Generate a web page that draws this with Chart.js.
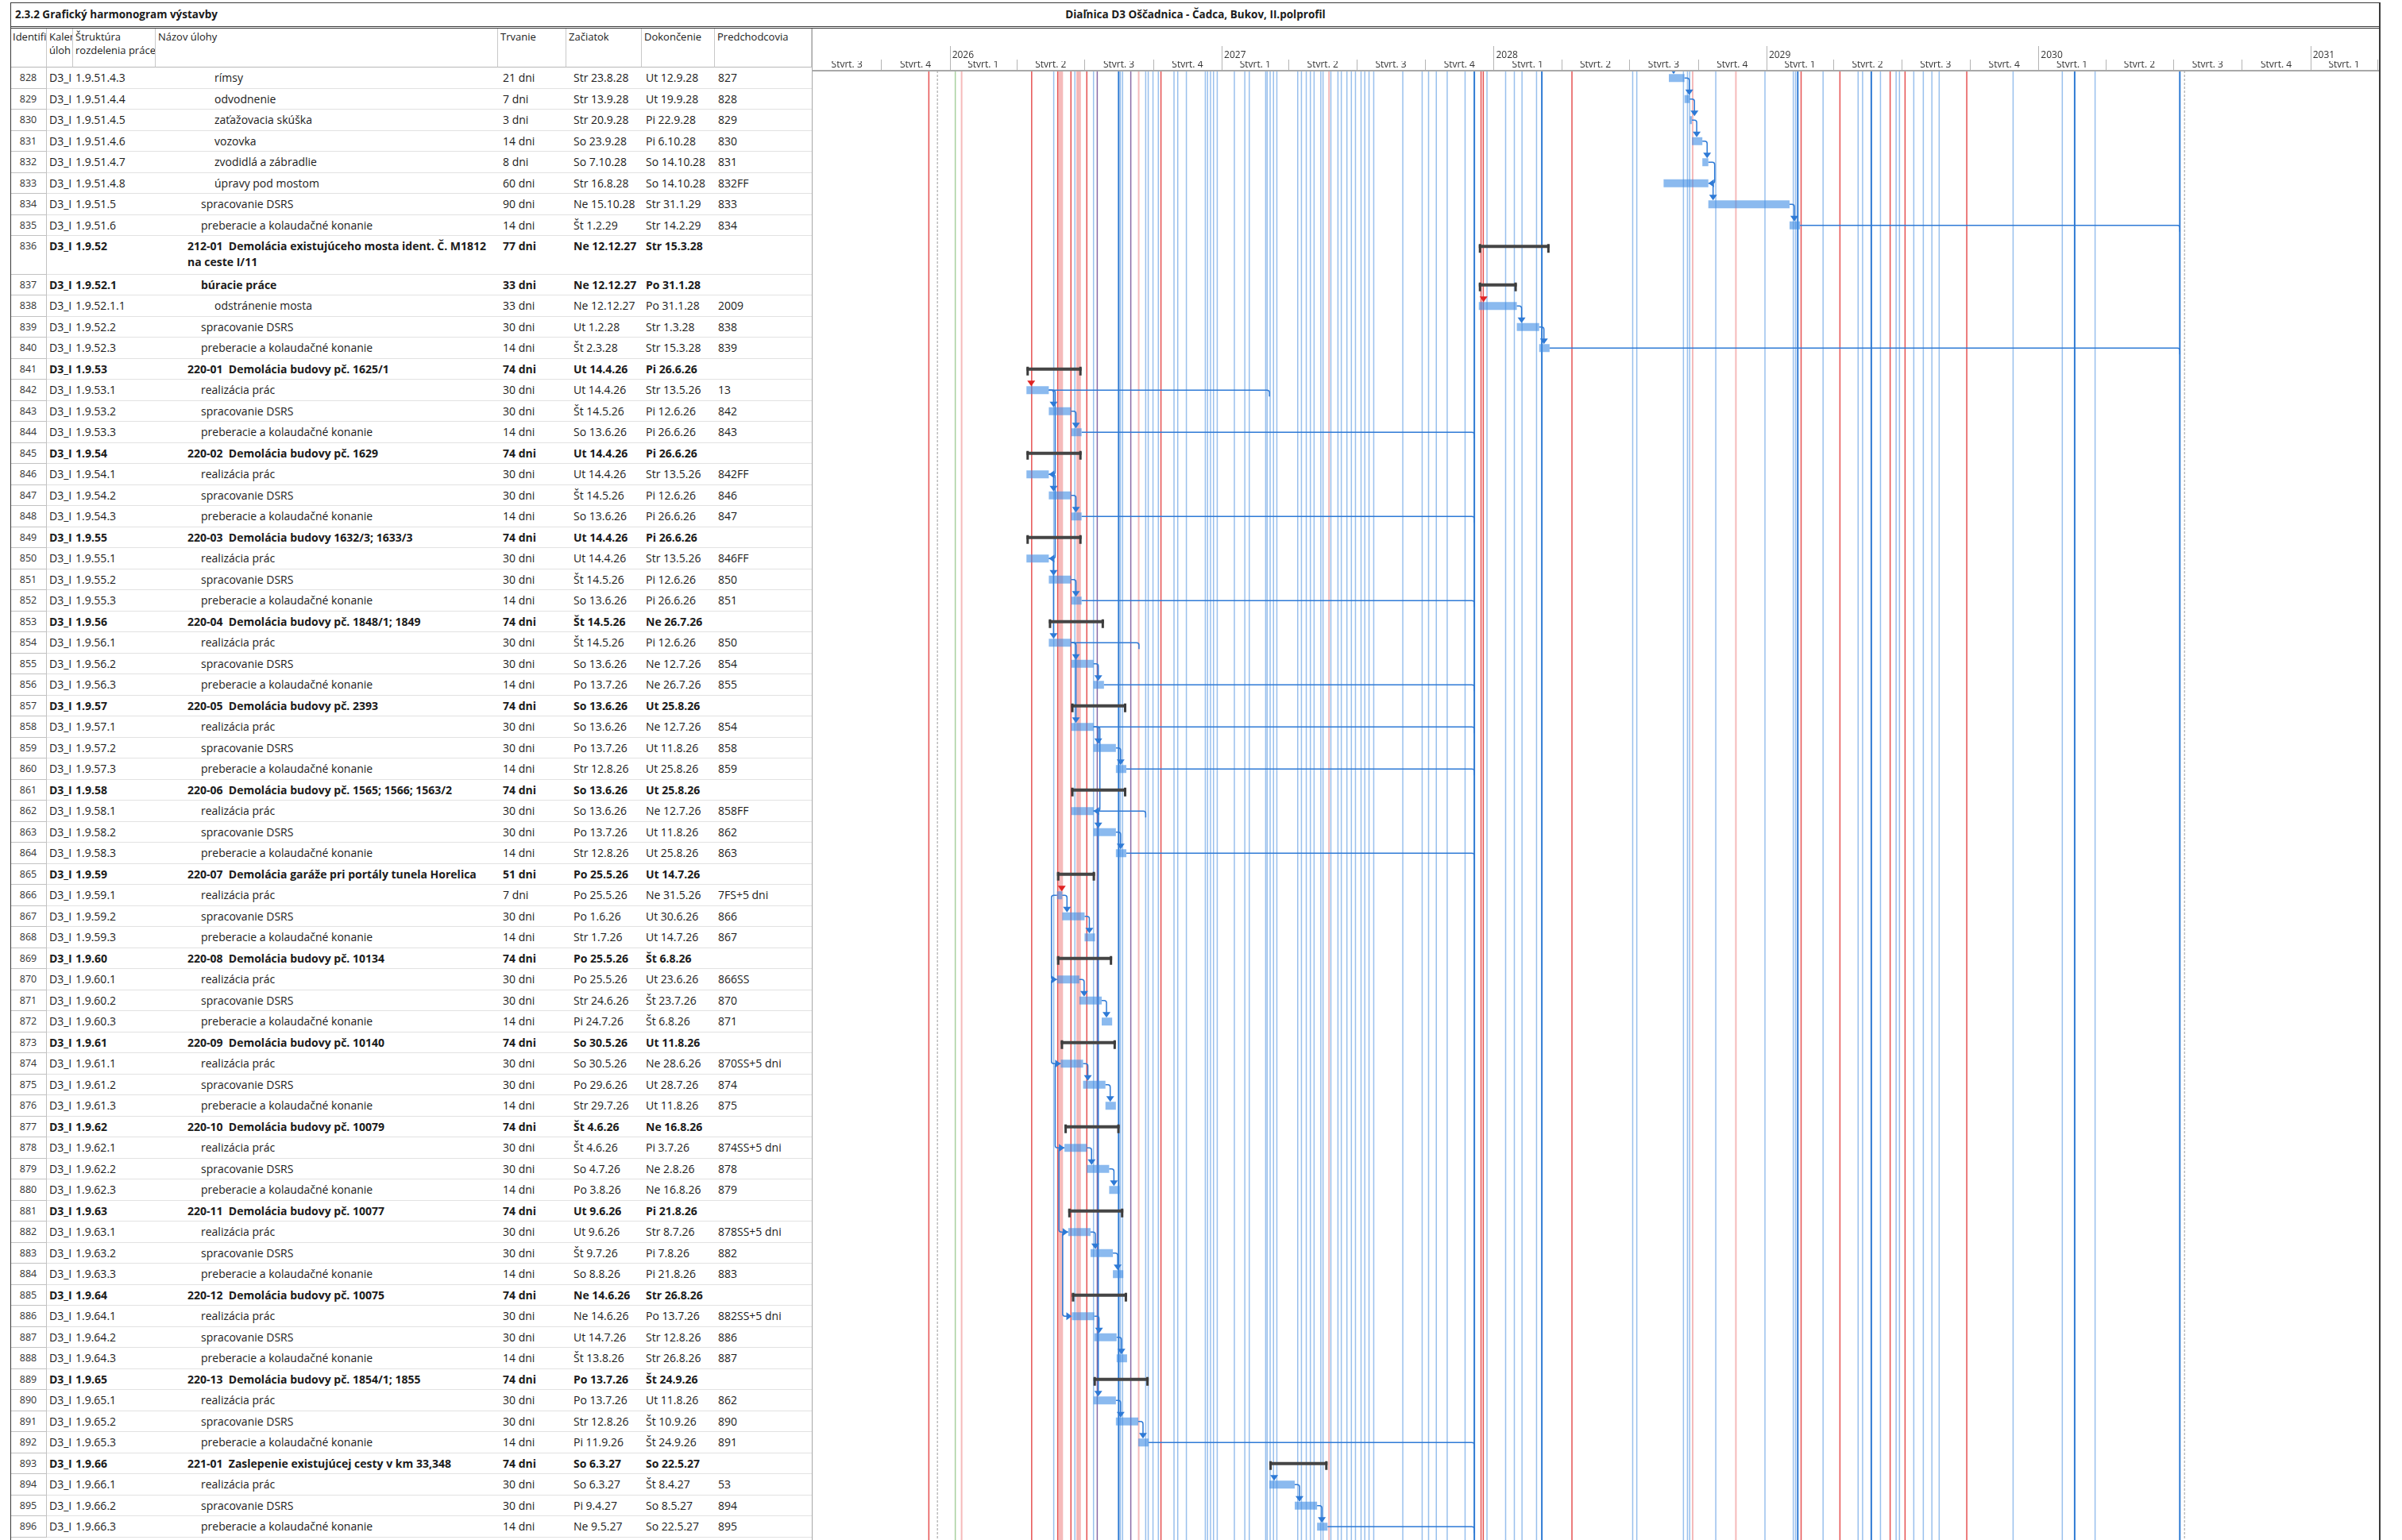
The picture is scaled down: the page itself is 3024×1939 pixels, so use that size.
<!DOCTYPE html>
<html lang="sk">
<head>
<meta charset="utf-8">
<title>2.3.2 Grafický harmonogram výstavby</title>
<script src="https://cdn.jsdelivr.net/npm/chart.js@4.4.1/dist/chart.umd.min.js"></script>
<style>
  html, body { margin: 0; padding: 0; background: #fff; }
  body { width: 3024px; height: 1939px; overflow: hidden; position: relative;
         font-family: 'Open Sans', 'Noto Sans', sans-serif; color: #1b1b1b; }
  .abs { position: absolute; }
  .frame { left: 13px; top: 3px; width: 2984px; height: 1960px; border: 1px solid #3a3a3a;
           border-right-width: 2px; box-sizing: border-box; z-index: 5; pointer-events: none; }
  .hline { left: 13px; width: 2984px; height: 1px; background: #3a3a3a; z-index: 5; }
  .title-left { left: 19px; top: 9px; font-size: 13.5px; font-weight: 700; }
  .title-center { left: 13px; width: 2984px; top: 9px; text-align: center; font-size: 13.5px; font-weight: 700; }
  .hcell { top: 35px; height: 50px; box-sizing: border-box; padding: 3px 0 0 3px; font-size: 13px;
           line-height: 17px; border-right: 1px solid #c8c8c8; border-bottom: 1px solid #b8b8b8; overflow: hidden; white-space: nowrap; }
  .row { left: 13px; width: 1009px; }
  .cell { top: 0; height: 26.5px; line-height: 26.5px; font-size: 14px; white-space: pre; overflow: hidden; box-sizing: border-box; }
  .row .line { left: 46px; right: 0; bottom: 0; height: 1px; background: #e2e2e2; }
  .idcell { text-align: center; font-size: 12.5px; color: #333; border-right: 1px solid #c2c2c2; border-bottom: 1px solid #c2c2c2; height: 100%; }
  .sum .cell { font-weight: 700; }
  .sum .idcell { font-weight: 400; }
  .wrapname { white-space: pre-wrap; line-height: 20px; padding-top: 3px; height: auto; }
  #gantt { left: 1022px; top: 35px; width: 1974px; height: 1904px; border-left: 1px solid #a8a8a8; box-sizing: border-box; }
</style>
</head>
<body>
<div class="abs frame"></div>
<div class="abs title-left">2.3.2 Grafický harmonogram výstavby</div>
<div class="abs title-center">Diaľnica D3 Oščadnica - Čadca, Bukov, II.polprofil</div>
<div class="abs hline" style="top:33px"></div>
<div class="abs hline" style="top:35px"></div>
<div id="table"></div>
<div id="gantt" class="abs"><canvas id="ganttChart"></canvas></div>

<script>
// --- DATA ---
const taskIds = [828, 829, 830, 831, 832, 833, 834, 835, 836, 837, 838, 839, 840, 841, 842, 843, 844, 845,
  846, 847, 848, 849, 850, 851, 852, 853, 854, 855, 856, 857, 858, 859, 860, 861, 862, 863, 864, 865, 866,
  867, 868, 869, 870, 871, 872, 873, 874, 875, 876, 877, 878, 879, 880, 881, 882, 883, 884, 885, 886, 887,
  888, 889, 890, 891, 892, 893, 894, 895, 896];

const wbsCodes = ['1.9.51.4.3', '1.9.51.4.4', '1.9.51.4.5', '1.9.51.4.6', '1.9.51.4.7', '1.9.51.4.8',
  '1.9.51.5', '1.9.51.6', '1.9.52', '1.9.52.1', '1.9.52.1.1', '1.9.52.2', '1.9.52.3',
  '1.9.53', '1.9.53.1', '1.9.53.2', '1.9.53.3', '1.9.54', '1.9.54.1', '1.9.54.2', '1.9.54.3',
  '1.9.55', '1.9.55.1', '1.9.55.2', '1.9.55.3', '1.9.56', '1.9.56.1', '1.9.56.2', '1.9.56.3',
  '1.9.57', '1.9.57.1', '1.9.57.2', '1.9.57.3', '1.9.58', '1.9.58.1', '1.9.58.2', '1.9.58.3',
  '1.9.59', '1.9.59.1', '1.9.59.2', '1.9.59.3', '1.9.60', '1.9.60.1', '1.9.60.2', '1.9.60.3',
  '1.9.61', '1.9.61.1', '1.9.61.2', '1.9.61.3', '1.9.62', '1.9.62.1', '1.9.62.2', '1.9.62.3',
  '1.9.63', '1.9.63.1', '1.9.63.2', '1.9.63.3', '1.9.64', '1.9.64.1', '1.9.64.2', '1.9.64.3',
  '1.9.65', '1.9.65.1', '1.9.65.2', '1.9.65.3', '1.9.66', '1.9.66.1', '1.9.66.2', '1.9.66.3'];

const REAL = 'realizácia prác', DSRS = 'spracovanie DSRS', KOLAUD = 'preberacie a kolaudačné konanie';
const taskNames = ['rímsy', 'odvodnenie', 'zaťažovacia skúška', 'vozovka', 'zvodidlá a zábradlie', 'úpravy pod mostom',
  DSRS, KOLAUD,
  '212-01  Demolácia existujúceho mosta ident. Č. M1812 na ceste I/11', 'búracie práce', 'odstránenie mosta', DSRS, KOLAUD,
  '220-01  Demolácia budovy pč. 1625/1', REAL, DSRS, KOLAUD,
  '220-02  Demolácia budovy pč. 1629', REAL, DSRS, KOLAUD,
  '220-03  Demolácia budovy 1632/3; 1633/3', REAL, DSRS, KOLAUD,
  '220-04  Demolácia budovy pč. 1848/1; 1849', REAL, DSRS, KOLAUD,
  '220-05  Demolácia budovy pč. 2393', REAL, DSRS, KOLAUD,
  '220-06  Demolácia budovy pč. 1565; 1566; 1563/2', REAL, DSRS, KOLAUD,
  '220-07  Demolácia garáže pri portály tunela Horelica', REAL, DSRS, KOLAUD,
  '220-08  Demolácia budovy pč. 10134', REAL, DSRS, KOLAUD,
  '220-09  Demolácia budovy pč. 10140', REAL, DSRS, KOLAUD,
  '220-10  Demolácia budovy pč. 10079', REAL, DSRS, KOLAUD,
  '220-11  Demolácia budovy pč. 10077', REAL, DSRS, KOLAUD,
  '220-12  Demolácia budovy pč. 10075', REAL, DSRS, KOLAUD,
  '220-13  Demolácia budovy pč. 1854/1; 1855', REAL, DSRS, KOLAUD,
  '221-01  Zaslepenie existujúcej cesty v km 33,348', REAL, DSRS, KOLAUD];

const durations = ['21 dni', '7 dni', '3 dni', '14 dni', '8 dni', '60 dni', '90 dni', '14 dni',
  '77 dni', '33 dni', '33 dni', '30 dni', '14 dni',
  '74 dni', '30 dni', '30 dni', '14 dni', '74 dni', '30 dni', '30 dni', '14 dni',
  '74 dni', '30 dni', '30 dni', '14 dni', '74 dni', '30 dni', '30 dni', '14 dni',
  '74 dni', '30 dni', '30 dni', '14 dni', '74 dni', '30 dni', '30 dni', '14 dni',
  '51 dni', '7 dni', '30 dni', '14 dni', '74 dni', '30 dni', '30 dni', '14 dni',
  '74 dni', '30 dni', '30 dni', '14 dni', '74 dni', '30 dni', '30 dni', '14 dni',
  '74 dni', '30 dni', '30 dni', '14 dni', '74 dni', '30 dni', '30 dni', '14 dni',
  '74 dni', '30 dni', '30 dni', '14 dni', '74 dni', '30 dni', '30 dni', '14 dni'];

const startDates = ['Str 23.8.28', 'Str 13.9.28', 'Str 20.9.28', 'So 23.9.28', 'So 7.10.28', 'Str 16.8.28',
  'Ne 15.10.28', 'Št 1.2.29', 'Ne 12.12.27', 'Ne 12.12.27', 'Ne 12.12.27', 'Ut 1.2.28', 'Št 2.3.28',
  'Ut 14.4.26', 'Ut 14.4.26', 'Št 14.5.26', 'So 13.6.26', 'Ut 14.4.26', 'Ut 14.4.26', 'Št 14.5.26', 'So 13.6.26',
  'Ut 14.4.26', 'Ut 14.4.26', 'Št 14.5.26', 'So 13.6.26', 'Št 14.5.26', 'Št 14.5.26', 'So 13.6.26', 'Po 13.7.26',
  'So 13.6.26', 'So 13.6.26', 'Po 13.7.26', 'Str 12.8.26', 'So 13.6.26', 'So 13.6.26', 'Po 13.7.26', 'Str 12.8.26',
  'Po 25.5.26', 'Po 25.5.26', 'Po 1.6.26', 'Str 1.7.26', 'Po 25.5.26', 'Po 25.5.26', 'Str 24.6.26', 'Pi 24.7.26',
  'So 30.5.26', 'So 30.5.26', 'Po 29.6.26', 'Str 29.7.26', 'Št 4.6.26', 'Št 4.6.26', 'So 4.7.26', 'Po 3.8.26',
  'Ut 9.6.26', 'Ut 9.6.26', 'Št 9.7.26', 'So 8.8.26', 'Ne 14.6.26', 'Ne 14.6.26', 'Ut 14.7.26', 'Št 13.8.26',
  'Po 13.7.26', 'Po 13.7.26', 'Str 12.8.26', 'Pi 11.9.26', 'So 6.3.27', 'So 6.3.27', 'Pi 9.4.27', 'Ne 9.5.27'];

const finishDates = ['Ut 12.9.28', 'Ut 19.9.28', 'Pi 22.9.28', 'Pi 6.10.28', 'So 14.10.28', 'So 14.10.28',
  'Str 31.1.29', 'Str 14.2.29', 'Str 15.3.28', 'Po 31.1.28', 'Po 31.1.28', 'Str 1.3.28', 'Str 15.3.28',
  'Pi 26.6.26', 'Str 13.5.26', 'Pi 12.6.26', 'Pi 26.6.26', 'Pi 26.6.26', 'Str 13.5.26', 'Pi 12.6.26', 'Pi 26.6.26',
  'Pi 26.6.26', 'Str 13.5.26', 'Pi 12.6.26', 'Pi 26.6.26', 'Ne 26.7.26', 'Pi 12.6.26', 'Ne 12.7.26', 'Ne 26.7.26',
  'Ut 25.8.26', 'Ne 12.7.26', 'Ut 11.8.26', 'Ut 25.8.26', 'Ut 25.8.26', 'Ne 12.7.26', 'Ut 11.8.26', 'Ut 25.8.26',
  'Ut 14.7.26', 'Ne 31.5.26', 'Ut 30.6.26', 'Ut 14.7.26', 'Št 6.8.26', 'Ut 23.6.26', 'Št 23.7.26', 'Št 6.8.26',
  'Ut 11.8.26', 'Ne 28.6.26', 'Ut 28.7.26', 'Ut 11.8.26', 'Ne 16.8.26', 'Pi 3.7.26', 'Ne 2.8.26', 'Ne 16.8.26',
  'Pi 21.8.26', 'Str 8.7.26', 'Pi 7.8.26', 'Pi 21.8.26', 'Str 26.8.26', 'Po 13.7.26', 'Str 12.8.26', 'Str 26.8.26',
  'Št 24.9.26', 'Ut 11.8.26', 'Št 10.9.26', 'Št 24.9.26', 'So 22.5.27', 'Št 8.4.27', 'So 8.5.27', 'So 22.5.27'];

const predecessors = ['827', '828', '829', '830', '831', '832FF', '833', '834',
  '', '', '2009', '838', '839',
  '', '13', '842', '843', '', '842FF', '846', '847',
  '', '846FF', '850', '851', '', '850', '854', '855',
  '', '854', '858', '859', '', '858FF', '862', '863',
  '', '7FS+5 dni', '866', '867', '', '866SS', '870', '871',
  '', '870SS+5 dni', '874', '875', '', '874SS+5 dni', '878', '879',
  '', '878SS+5 dni', '882', '883', '', '882SS+5 dni', '886', '887',
  '', '862', '890', '891', '', '53', '894', '895'];

// incoming links from tasks outside this page that are critical (drawn red)
const criticalInLinks = [838, 842, 866];

// timescale
const viewStart = '1.7.25';
const viewEnd = '4.4.31';
const quarterTickLabels = ['Štvrť. 3', 'Štvrť. 4',
  'Štvrť. 1', 'Štvrť. 2', 'Štvrť. 3', 'Štvrť. 4',
  'Štvrť. 1', 'Štvrť. 2', 'Štvrť. 3', 'Štvrť. 4',
  'Štvrť. 1', 'Štvrť. 2', 'Štvrť. 3', 'Štvrť. 4',
  'Štvrť. 1', 'Štvrť. 2', 'Štvrť. 3', 'Štvrť. 4',
  'Štvrť. 1', 'Štvrť. 2', 'Štvrť. 3', 'Štvrť. 4',
  'Štvrť. 1'];
const yearTickLabels = ['2026', '2027', '2028', '2029', '2030', '2031'];

// link lines of other tasks passing vertically through the page (day from 1.1.2026) and their kind
const crossLinkDays = [-28, -16.5, 7.5, 16, 110, 139.6, 145, 147, 149, 151, 162.7, 168, 171, 173, 175, 184, 193, 198,
  226.7, 229, 232, 243, 253.6, 263, 266.4, 272.8, 280, 283.5, 301, 306, 317.6, 343, 346, 350, 354, 359, 382, 396, 402,
  424, 426, 430, 434.5, 439, 467, 472, 478.5, 484, 489, 498, 501, 509, 511.5, 521, 525.5, 533, 539, 544.5, 552,
  557, 562.7, 569, 608, 634, 642.6, 653, 667.6, 691.6, 704, 713, 716, 721, 746, 757.7, 768, 787.5, 794.6, 835,
  916.5, 922, 984.6, 990, 993, 997, 1028, 1055, 1094, 1132, 1135, 1138, 1142.5, 1172, 1194.6, 1219, 1225, 1236.7,
  1249, 1262, 1270, 1274.5, 1282, 1293.7, 1306.5, 1318, 1327.8, 1364.8, 1427, 1493, 1509.6, 1537, 1650.7, 1657];
const crossLinkKinds = ['c', 's', 'g', 'l', 'c', 'n', 'c', 'l', 'l', 'l', 'c', 'n', 'l', 'l', 'l', 'c', 'n', 'p',
  'd', 'n', 'n', 'p', 'l', 'n', 'n', 'n', 'n', 'c', 'n', 'n', 'n', 'n', 'n', 'n', 'n', 'n', 'n', 'n', 'n',
  'n', 'n', 'n', 'n', 'n', 'n', 'n', 'n', 'n', 'n', 'n', 'n', 'l', 'n', 'n', 'n', 'n', 'n', 'n', 'n',
  'n', 'n', 'n', 'n', 'n', 'n', 'n', 'n', 'n', 'd', 'c', 'c', 'n', 'n', 'n', 'n', 'n', 'd', 'c',
  'n', 'n', 'n', 'n', 'n', 'l', 'n', 'l', 'n', 'n', 'n', 'd', 'c', 'n', 'c', 'n', 'n', 'd',
  'n', 'c', 'n', 'n', 'c', 'n', 'n', 'n', 'n', 'c', 'n', 'n', 'd', 'n', 'd', 's'];

// links leaving page tasks towards successors elsewhere
const outLinkFrom = [835, 840, 842, 844, 848, 852, 854, 856, 858, 860, 862, 864, 892, 896];
const outLinkToDays = [1650.7, 1650.7, 429, 704, 704, 704, 254, 704, 704, 704, 263, 704, 704, 704];

// --- LAYOUT ---
const COLS = [13, 59, 92, 196, 627, 713, 808, 900, 1022];
const headerLabels = ['Identifik', 'Kaler\núloh', 'Štruktúra\nrozdelenia práce', 'Názov úlohy', 'Trvanie', 'Začiatok', 'Dokončenie', 'Predchodcovia'];
const TABLE_TOP = 85, ROW_H = 26.5, TALL_H = 48.5, CHART_TOP = 89, PAGE_H = 1939;

const DAY = 86400000, BASE = Date.UTC(2026, 0, 1);
function toDay(s) {
  const p = s.trim().split(' ').pop().split('.');
  return (Date.UTC(2000 + Number(p[2]), Number(p[1]) - 1, Number(p[0])) - BASE) / DAY;
}

const slotTop = [], slotSize = [];
let acc = 0;
taskNames.forEach(n => {
  const size = n.length > 55 ? TALL_H / ROW_H : 1;
  slotTop.push(acc); slotSize.push(size); acc += size;
});
const rowCenter = i => slotTop[i] + 0.5;
const isSummary = wbsCodes.map((w, i) => i + 1 < wbsCodes.length && wbsCodes[i + 1].startsWith(w + '.'));

// --- TABLE ---
const table = document.getElementById('table');
headerLabels.forEach((h, c) => {
  const d = document.createElement('div');
  d.className = 'abs hcell';
  d.style.left = COLS[c] + 'px';
  d.style.width = (COLS[c + 1] - COLS[c]) + 'px';
  d.innerHTML = h.split('\n').join('<br>');
  table.appendChild(d);
});

taskIds.forEach((id, i) => {
  const row = document.createElement('div');
  row.className = 'abs row' + (isSummary[i] ? ' sum' : '');
  row.style.top = (TABLE_TOP + slotTop[i] * ROW_H) + 'px';
  row.style.height = (slotSize[i] * ROW_H) + 'px';
  const level = wbsCodes[i].split('.').length;
  const values = [String(id), 'D3_I', wbsCodes[i], taskNames[i], durations[i], startDates[i], finishDates[i], predecessors[i]];
  const pads = [0, 3, 3, 40 + (level - 3) * 17, 6, 9, 5, 4];
  const line = document.createElement('div');
  line.className = 'abs line';
  row.appendChild(line);
  values.forEach((v, c) => {
    const d = document.createElement('div');
    d.className = 'abs cell' + (c === 0 ? ' idcell' : '');
    d.style.left = (COLS[c] - COLS[0]) + 'px';
    d.style.width = (COLS[c + 1] - COLS[c]) + 'px';
    d.style.paddingLeft = pads[c] + 'px';
    if (c === 3 && slotSize[i] > 1) {
      d.classList.add('wrapname');
      d.style.width = (pads[c] + 386) + 'px';
    }
    d.textContent = v;
    row.appendChild(d);
  });
  table.appendChild(row);
});

// --- CHART ---
const VIEW_MIN = toDay(viewStart), VIEW_MAX = toDay(viewEnd);
const quarterStarts = [];
for (let k = 0; k <= quarterTickLabels.length; k++) quarterStarts.push((Date.UTC(2025, 6 + 3 * k, 1) - BASE) / DAY);
const quarterMids = quarterTickLabels.map((l, k) => (quarterStarts[k] + quarterStarts[k + 1]) / 2);
const yearStarts = yearTickLabels.map(y => toDay('1.1.' + y.slice(2)));

const taskBars = [], summaryBars = [];
taskIds.forEach((id, i) => {
  const pt = { x: [toDay(startDates[i]), toDay(finishDates[i]) + 1], y: rowCenter(i) };
  (isSummary[i] ? summaryBars : taskBars).push(pt);
});

const lineStyles = {
  n: { color: 'rgba(70,140,222,0.55)', width: 1.5 },
  d: { color: '#2f7bd4', width: 2 },
  c: { color: 'rgba(226,52,52,0.85)', width: 1.5 },
  l: { color: 'rgba(232,90,90,0.42)', width: 2 },
  p: { color: '#8a6ba6', width: 1.5 },
  g: { color: '#a7d19e', width: 1.5 },
  s: { color: '#9a9a9a', width: 1, dash: [3, 2] }
};
const LINK_BLUE = '#2e7ad6', LINK_RED = '#e02424';

function polyline(ctx, pts, r) {
  ctx.beginPath();
  ctx.moveTo(pts[0][0], pts[0][1]);
  for (let k = 1; k < pts.length - 1; k++) ctx.arcTo(pts[k][0], pts[k][1], pts[k + 1][0], pts[k + 1][1], r);
  ctx.lineTo(pts[pts.length - 1][0], pts[pts.length - 1][1]);
  ctx.stroke();
}
function arrow(ctx, x, y, dir, color) {
  ctx.fillStyle = color;
  ctx.beginPath();
  if (dir === 'down') { ctx.moveTo(x, y); ctx.lineTo(x - 5, y - 7); ctx.lineTo(x + 5, y - 7); }
  else if (dir === 'left') { ctx.moveTo(x, y); ctx.lineTo(x + 7, y - 5); ctx.lineTo(x + 7, y + 5); }
  else { ctx.moveTo(x, y); ctx.lineTo(x - 7, y - 5); ctx.lineTo(x - 7, y + 5); }
  ctx.closePath();
  ctx.fill();
}
function parsePred(p) {
  const m = /^(\d+)(FS|SS|FF|SF)?(?:([+-]\d+) dni)?$/.exec(p.trim());
  return m ? { id: Number(m[1]), type: m[2] || 'FS' } : null;
}

const ganttDecor = {
  id: 'ganttDecor',
  beforeDatasetsDraw(chart) {
    const { ctx, chartArea: a, scales: { x, y } } = chart;
    ctx.save();
    ctx.beginPath(); ctx.rect(a.left, a.top, a.right - a.left, a.bottom - a.top); ctx.clip();
    crossLinkDays.forEach((d, k) => {
      const st = lineStyles[crossLinkKinds[k]];
      const px = x.getPixelForValue(d);
      ctx.strokeStyle = st.color; ctx.lineWidth = st.width; ctx.setLineDash(st.dash || []);
      ctx.beginPath(); ctx.moveTo(px, a.top); ctx.lineTo(px, a.bottom); ctx.stroke();
    });
    ctx.setLineDash([]);
    ctx.strokeStyle = LINK_BLUE; ctx.lineWidth = 1.5;
    outLinkFrom.forEach((id, k) => {
      const i = taskIds.indexOf(id);
      const py = y.getPixelForValue(rowCenter(i));
      const pe = x.getPixelForValue(toDay(finishDates[i]) + 1);
      const tx = x.getPixelForValue(outLinkToDays[k]);
      polyline(ctx, [[pe, py], [tx, py], [tx, py + 8]], 3);
    });
    // connectors between tasks of this page
    taskIds.forEach((id, i) => {
      const pr = parsePred(predecessors[i]);
      if (!pr) return;
      const j = taskIds.indexOf(pr.id);
      if (j < 0) return;
      const sy = y.getPixelForValue(rowCenter(i));
      const ss = x.getPixelForValue(toDay(startDates[i]));
      const se = x.getPixelForValue(toDay(finishDates[i]) + 1);
      const py = y.getPixelForValue(rowCenter(j));
      const ps = x.getPixelForValue(toDay(startDates[j]));
      const pe = x.getPixelForValue(toDay(finishDates[j]) + 1);
      if (pr.type === 'FF') {
        const X = Math.max(pe, se) + 8;
        polyline(ctx, [[pe, py], [X, py], [X, sy], [se + 6, sy]], 3);
      } else if (pr.type === 'SS') {
        const X = Math.min(ps, ss) - 7;
        polyline(ctx, [[ps, py], [X, py], [X, sy], [ss - 6, sy]], 3);
      } else {
        const xx = ss + 6;
        polyline(ctx, [[pe, py], [xx, py], [xx, sy - 11]], 3);
      }
    });
    ctx.restore();
  },
  afterDatasetsDraw(chart) {
    const { ctx, chartArea: a, scales: { x, y } } = chart;
    ctx.save();
    ctx.beginPath(); ctx.rect(a.left, a.top, a.right - a.left, a.bottom - a.top); ctx.clip();
    // summary end caps
    ctx.fillStyle = '#3c3c3c';
    taskIds.forEach((id, i) => {
      if (!isSummary[i]) return;
      const cy = y.getPixelForValue(rowCenter(i));
      const s = x.getPixelForValue(toDay(startDates[i]));
      const e = x.getPixelForValue(toDay(finishDates[i]) + 1);
      ctx.fillRect(s, cy - 3, 3, 11);
      ctx.fillRect(e - 3, cy - 3, 3, 11);
    });
    // arrowheads
    taskIds.forEach((id, i) => {
      const pr = parsePred(predecessors[i]);
      if (!pr) return;
      const j = taskIds.indexOf(pr.id);
      const sy = y.getPixelForValue(rowCenter(i));
      const ss = x.getPixelForValue(toDay(startDates[i]));
      const se = x.getPixelForValue(toDay(finishDates[i]) + 1);
      if (j < 0) {
        arrow(ctx, ss + 6, sy - 5, 'down', criticalInLinks.includes(id) ? LINK_RED : LINK_BLUE);
      } else if (pr.type === 'FF') {
        arrow(ctx, se, sy, 'left', LINK_BLUE);
      } else if (pr.type === 'SS') {
        arrow(ctx, ss, sy, 'right', LINK_BLUE);
      } else {
        arrow(ctx, ss + 6, sy - 5, 'down', LINK_BLUE);
      }
    });
    ctx.restore();
  },
  afterDraw(chart) {
    const { ctx, chartArea: a, scales: { x } } = chart;
    ctx.save();
    ctx.strokeStyle = '#b4b4b4'; ctx.lineWidth = 1;
    quarterStarts.forEach(d => {
      if (d <= VIEW_MIN || d >= VIEW_MAX) return;
      const px = Math.round(x.getPixelForValue(d)) + 0.5;
      ctx.beginPath(); ctx.moveTo(px, a.top - 14); ctx.lineTo(px, a.top); ctx.stroke();
    });
    yearStarts.forEach(d => {
      const px = Math.round(x.getPixelForValue(d)) + 0.5;
      ctx.beginPath(); ctx.moveTo(px, a.top - 31); ctx.lineTo(px, a.top); ctx.stroke();
    });
    ctx.fillStyle = '#a8a8a8';
    ctx.fillRect(a.left, a.top - 1, a.right - a.left, 2);
    ctx.restore();
  }
};

Chart.defaults.font.family = "'Open Sans', 'Noto Sans', sans-serif";
Chart.defaults.color = '#333';

new Chart(document.getElementById('ganttChart'), {
  type: 'bar',
  data: {
    datasets: [
      { label: 'Úlohy', data: taskBars, xAxisID: 'x', yAxisID: 'y', grouped: false,
        maxBarThickness: 10, backgroundColor: 'rgba(62,140,228,0.6)', borderWidth: 0 },
      { label: 'Súhrnné úlohy', data: summaryBars, xAxisID: 'x', yAxisID: 'y', grouped: false,
        maxBarThickness: 4, backgroundColor: '#454545', borderWidth: 0 }
    ]
  },
  options: {
    indexAxis: 'y',
    responsive: true,
    maintainAspectRatio: false,
    animation: false,
    devicePixelRatio: 1,
    events: [],
    layout: { padding: { top: 20, left: 0, right: 0, bottom: 0 } },
    plugins: { legend: { display: false }, tooltip: { enabled: false } },
    scales: {
      x: {
        type: 'linear', position: 'top', min: VIEW_MIN, max: VIEW_MAX, weight: 0, offset: false,
        grid: { display: false, drawTicks: false }, border: { display: false },
        afterBuildTicks: s => { s.ticks = quarterMids.map(v => ({ value: v })); },
        afterFit: s => { s.height = 12; },
        ticks: { autoSkip: false, maxRotation: 0, minRotation: 0, padding: 0, font: { size: 12 },
                 callback: (v, i) => quarterTickLabels[i] }
      },
      xYear: {
        type: 'linear', axis: 'x', position: 'top', min: VIEW_MIN, max: VIEW_MAX, weight: 1, offset: false,
        grid: { display: false, drawTicks: false }, border: { display: false },
        afterBuildTicks: s => { s.ticks = yearStarts.map(v => ({ value: v })); },
        afterFit: s => { s.height = 22; },
        ticks: { autoSkip: false, maxRotation: 0, minRotation: 0, padding: 0, align: 'start', labelOffset: 3,
                 font: { size: 12 }, callback: (v, i) => yearTickLabels[i] }
      },
      y: {
        type: 'linear', reverse: true, display: false, offset: false, grace: 0, bounds: 'data',
        min: (CHART_TOP - TABLE_TOP) / ROW_H, max: (PAGE_H - TABLE_TOP) / ROW_H
      }
    }
  },
  plugins: [ganttDecor]
});
</script>
</body>
</html>
